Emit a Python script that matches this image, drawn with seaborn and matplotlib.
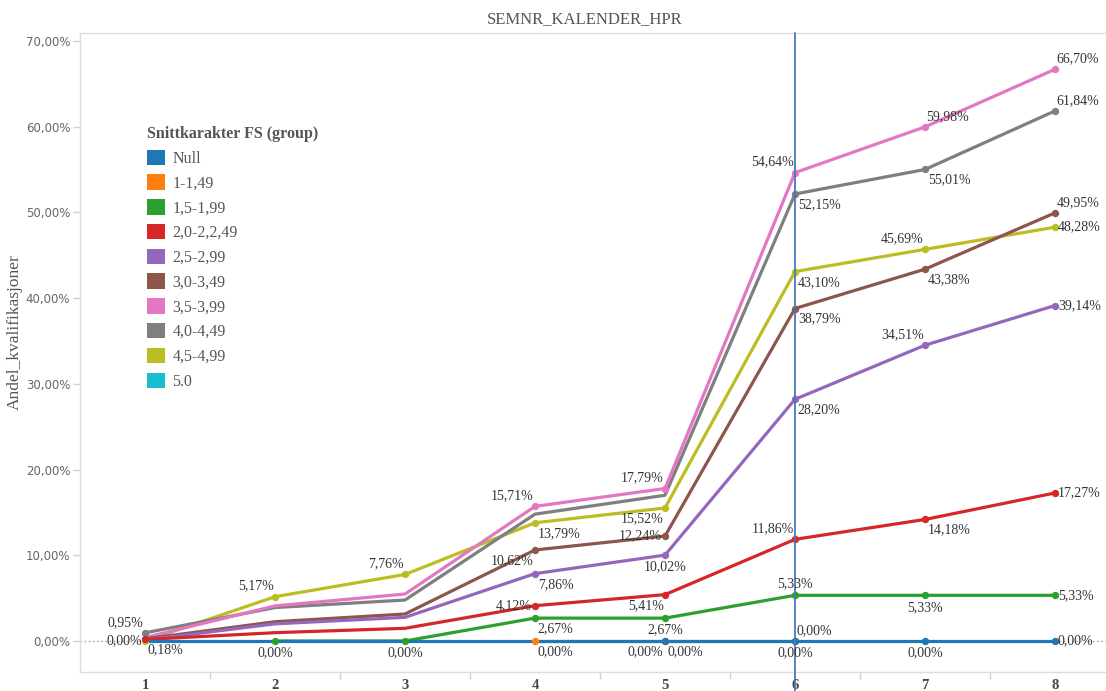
import matplotlib
matplotlib.use('Agg')
import matplotlib.pyplot as plt
from matplotlib.patches import Patch
import seaborn as sns
import pandas as pd
import numpy as np

nan = np.nan

semester = [1, 2, 3, 4, 5, 6, 7, 8]

group_names = ['Null', '1-1,49', '1,5-1,99', '2,0-2,2,49', '2,5-2,99',
               '3,0-3,49', '3,5-3,99', '4,0-4,49', '4,5-4,99', '5.0']
group_colors = ['#1f77b4', '#ff7f0e', '#2ca02c', '#d62728', '#9467bd',
                '#8c564b', '#e377c2', '#7f7f7f', '#bcbd22', '#17becf']

null_vals = [0.00, 0.00, 0.00, 0.00, 0.00, 0.00, 0.00, 0.00]
g10_vals = [nan, nan, nan, 0.00, 0.00, 0.00, nan, nan]
g15_vals = [nan, 0.00, 0.00, 2.67, 2.67, 5.33, 5.33, 5.33]
g20_vals = [0.18, 0.97, 1.48, 4.12, 5.41, 11.86, 14.18, 17.27]
g25_vals = [0.12, 2.00, 2.76, 7.86, 10.02, 28.20, 34.51, 39.14]
g30_vals = [0.25, 2.25, 3.15, 10.62, 12.24, 38.79, 43.38, 49.95]
g35_vals = [0.40, 4.10, 5.48, 15.71, 17.79, 54.64, 59.98, 66.70]
g40_vals = [0.95, 3.90, 4.78, 14.80, 17.00, 52.15, 55.01, 61.84]
g45_vals = [0.00, 5.17, 7.76, 13.79, 15.52, 43.10, 45.69, 48.28]
g50_vals = [nan, nan, nan, nan, nan, nan, nan, nan]

all_vals = [null_vals, g10_vals, g15_vals, g20_vals, g25_vals,
            g30_vals, g35_vals, g40_vals, g45_vals, g50_vals]

# which points carry a label, and where the label sits
labels = [
    ('4,0-4,49', 1, 'al'), ('4,5-4,99', 1, 'l'), ('2,0-2,2,49', 1, 'br'),
    ('4,5-4,99', 2, 'al'), ('1,5-1,99', 2, 'b'),
    ('4,5-4,99', 3, 'al'), ('1,5-1,99', 3, 'b'),
    ('3,5-3,99', 4, 'al'), ('4,5-4,99', 4, 'br'), ('3,0-3,49', 4, 'bl'),
    ('2,5-2,99', 4, 'br'), ('2,0-2,2,49', 4, 'l'), ('1,5-1,99', 4, 'br'),
    ('1-1,49', 4, 'br'),
    ('3,5-3,99', 5, 'al'), ('4,5-4,99', 5, 'bl'), ('3,0-3,49', 5, 'l'),
    ('2,5-2,99', 5, 'b'), ('2,0-2,2,49', 5, 'bl'), ('1,5-1,99', 5, 'b'),
    ('Null', 5, 'bl'), ('1-1,49', 5, 'br'),
    ('3,5-3,99', 6, 'al'), ('4,0-4,49', 6, 'br'), ('4,5-4,99', 6, 'br'),
    ('3,0-3,49', 6, 'br'), ('2,5-2,99', 6, 'br'), ('2,0-2,2,49', 6, 'al'),
    ('1,5-1,99', 6, 'a'), ('Null', 6, 'b'), ('1-1,49', 6, 'ar'),
    ('3,5-3,99', 7, 'ar'), ('4,0-4,49', 7, 'br'), ('4,5-4,99', 7, 'al'),
    ('3,0-3,49', 7, 'br'), ('2,5-2,99', 7, 'al'), ('2,0-2,2,49', 7, 'br'),
    ('1,5-1,99', 7, 'b'), ('Null', 7, 'b'),
    ('3,5-3,99', 8, 'ar'), ('4,0-4,49', 8, 'ar'), ('3,0-3,49', 8, 'ar'),
    ('4,5-4,99', 8, 'r'), ('2,5-2,99', 8, 'r'), ('2,0-2,2,49', 8, 'r'),
    ('1,5-1,99', 8, 'r'), ('Null', 8, 'r'),
]

pos_style = {
    'al': (-1, 3, 'right', 'bottom'), 'ar': (1, 3, 'left', 'bottom'),
    'bl': (-1, -3, 'right', 'top'), 'br': (2, -3, 'left', 'top'),
    'a': (0, 4, 'center', 'bottom'), 'b': (0, -4, 'center', 'top'),
    'l': (-2, 0, 'right', 'center'), 'r': (2, 0, 'left', 'center'),
}


def fmt(v):
    return ('%.2f' % v).replace('.', ',') + '%'


def main():
    rows = {'Semester': [], 'Andel': [], 'Gruppe': []}
    for name, vals in zip(group_names, all_vals):
        for s, v in zip(semester, vals):
            rows['Semester'].append(s)
            rows['Andel'].append(v)
            rows['Gruppe'].append(name)
    df = pd.DataFrame(rows).dropna()
    palette = dict(zip(group_names, group_colors))

    sns.set_style('white')
    serif = ['Liberation Serif', 'DejaVu Serif']

    fig = plt.figure(figsize=(11.06, 6.91), dpi=100)
    ax = fig.add_axes([80 / 1106, 19 / 691, 1040 / 1106, 639 / 691])

    ax.axhline(0, color='#999999', lw=1, ls=(0, (1, 2)), zorder=1)

    # Null drawn last so it sits on top
    order = [g for g in group_names[::-1] if g in set(df['Gruppe'])]
    for i, g in enumerate(order):
        sub = df[df['Gruppe'] == g]
        sns.lineplot(x='Semester', y='Andel', data=sub, color=palette[g],
                     linewidth=2.3, ax=ax, zorder=3 + i, legend=False)

    lab = pd.DataFrame(labels, columns=['Gruppe', 'Semester', 'pos'])
    lab = lab.merge(df, on=['Gruppe', 'Semester'], how='left')
    lab['rank'] = lab['Gruppe'].map({g: i for i, g in enumerate(order)})
    lab = lab.sort_values('rank')
    for g, sub in lab.groupby('Gruppe', sort=False):
        sns.scatterplot(x='Semester', y='Andel', data=sub, color=palette[g],
                        s=28, linewidth=0, ax=ax, zorder=20 + sub['rank'].iloc[0],
                        legend=False)

    for _, r in lab.iterrows():
        dx, dy, ha, va = pos_style[r['pos']]
        ax.annotate(fmt(r['Andel']), (r['Semester'], r['Andel']),
                    xytext=(dx, dy), textcoords='offset points', ha=ha, va=va,
                    fontsize=10, family=serif, color='#333333', zorder=40)

    ax.axvline(6, ymin=-19 / 639, ymax=1, color='#4a78b5', lw=1.3,
               clip_on=False, zorder=30)

    ax.set_xlim(0.5, 8.5)
    ax.set_ylim(-31 / (600 / 70), 70 + 8 / (600 / 70))
    ax.set_xticks(semester)
    ax.set_xticklabels([str(s) for s in semester], family=serif,
                       fontweight='bold', fontsize=10.5, color='#444444')
    ax.set_xticks([s + 0.5 for s in semester[:-1]], minor=True)
    ax.tick_params(axis='x', which='major', length=0, pad=5)
    ax.tick_params(axis='x', which='minor', length=5, color='#d0d0d0',
                   width=1, direction='out', bottom=True)
    yt = list(range(0, 80, 10))
    ax.set_yticks(yt)
    ax.set_yticklabels([('%d,00%%' % v) for v in yt], fontsize=8.5,
                       family='DejaVu Sans', color='#666666')
    ax.tick_params(axis='y', length=5, color='#d0d0d0', width=1,
                   direction='out', left=True, pad=2)
    ax.set_xlabel('')
    ax.set_ylabel('')
    for side in ['top', 'left', 'bottom']:
        ax.spines[side].set_color('#dddddd')
        ax.spines[side].set_linewidth(1)
    ax.spines['right'].set_visible(False)

    fig.text(15 / 1106, 1 - 332 / 691, 'Andel_kvalifikasjoner', rotation=90,
             ha='center', va='center', fontsize=12.5, family=serif,
             color='#555555')
    fig.text(585 / 1106, 1 - 19 / 691, 'SEMNR_KALENDER_HPR', ha='center',
             va='center', fontsize=12, family=serif, color='#555555')

    handles = [Patch(facecolor=c, edgecolor='none') for c in group_colors]
    leg = fig.legend(handles, group_names, loc='upper left',
                     bbox_to_anchor=(147 / 1106, 1 - 126 / 691),
                     frameon=False, title='Snittkarakter FS (group)',
                     prop={'family': serif, 'size': 11.5}, handlelength=1.1,
                     handleheight=1.1, handletextpad=0.5, labelspacing=0.48,
                     borderpad=0, borderaxespad=0, alignment='left')
    leg.get_title().set_fontfamily(serif)
    leg.get_title().set_fontweight('bold')
    leg.get_title().set_fontsize(11.5)
    leg.get_title().set_color('#555555')
    for t in leg.get_texts():
        t.set_color('#555555')

    fig.savefig('out.png', dpi=100)
    plt.close()


if __name__ == '__main__':
    main()
